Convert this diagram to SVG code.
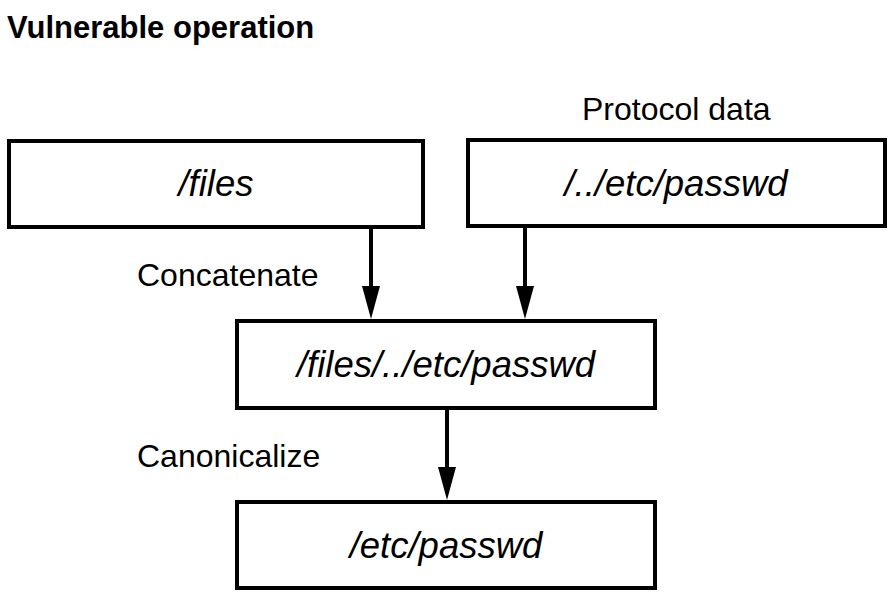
<svg xmlns="http://www.w3.org/2000/svg" width="896" height="595" viewBox="0 0 896 595">
  <style>
    .box { fill: #ffffff; stroke: #000000; stroke-width: 4; }
    .title { font-family: "Liberation Sans", Arial, sans-serif; font-weight: bold; font-size: 31px; fill: #000; }
    .label { font-family: "Liberation Sans", Arial, sans-serif; font-size: 32px; fill: #000; }
    .node { font-family: "Liberation Sans", Arial, sans-serif; font-style: italic; font-size: 36.5px; fill: #000; text-anchor: middle; }
    .conn { stroke: #000; stroke-width: 4; fill: none; marker-end: url(#arrow); }
  </style>
  <defs>
    <marker id="arrow" viewBox="0 0 33 18" refX="21" refY="9" markerWidth="33" markerHeight="18" markerUnits="userSpaceOnUse" orient="auto">
      <path d="M0,0 L33,9 L0,18 z" fill="#000"/>
    </marker>
  </defs>
  <rect width="896" height="595" fill="#ffffff"/>
  <text class="title" x="7" y="38">Vulnerable operation</text>
  <text class="label" x="582" y="120">Protocol data</text>
  <text class="label" x="137" y="286">Concatenate</text>
  <text class="label" x="137" y="467">Canonicalize</text>

  <g id="connectors">
    <line class="conn" x1="371" y1="229" x2="371" y2="307"/>
    <line class="conn" x1="525" y1="228" x2="525" y2="307"/>
    <line class="conn" x1="447" y1="410" x2="447" y2="488"/>
  </g>

  <g id="node-files">
    <rect class="box" x="9" y="141" width="414" height="86"/>
    <text class="node" x="216" y="196">/files</text>
  </g>
  <g id="node-protocol">
    <rect class="box" x="468" y="140" width="417" height="86"/>
    <text class="node" x="676" y="196">/../etc/passwd</text>
  </g>
  <g id="node-concat">
    <rect class="box" x="237" y="321" width="418" height="87"/>
    <text class="node" x="446" y="377">/files/../etc/passwd</text>
  </g>
  <g id="node-canon">
    <rect class="box" x="237" y="502" width="418" height="86"/>
    <text class="node" x="446" y="558">/etc/passwd</text>
  </g>
</svg>
